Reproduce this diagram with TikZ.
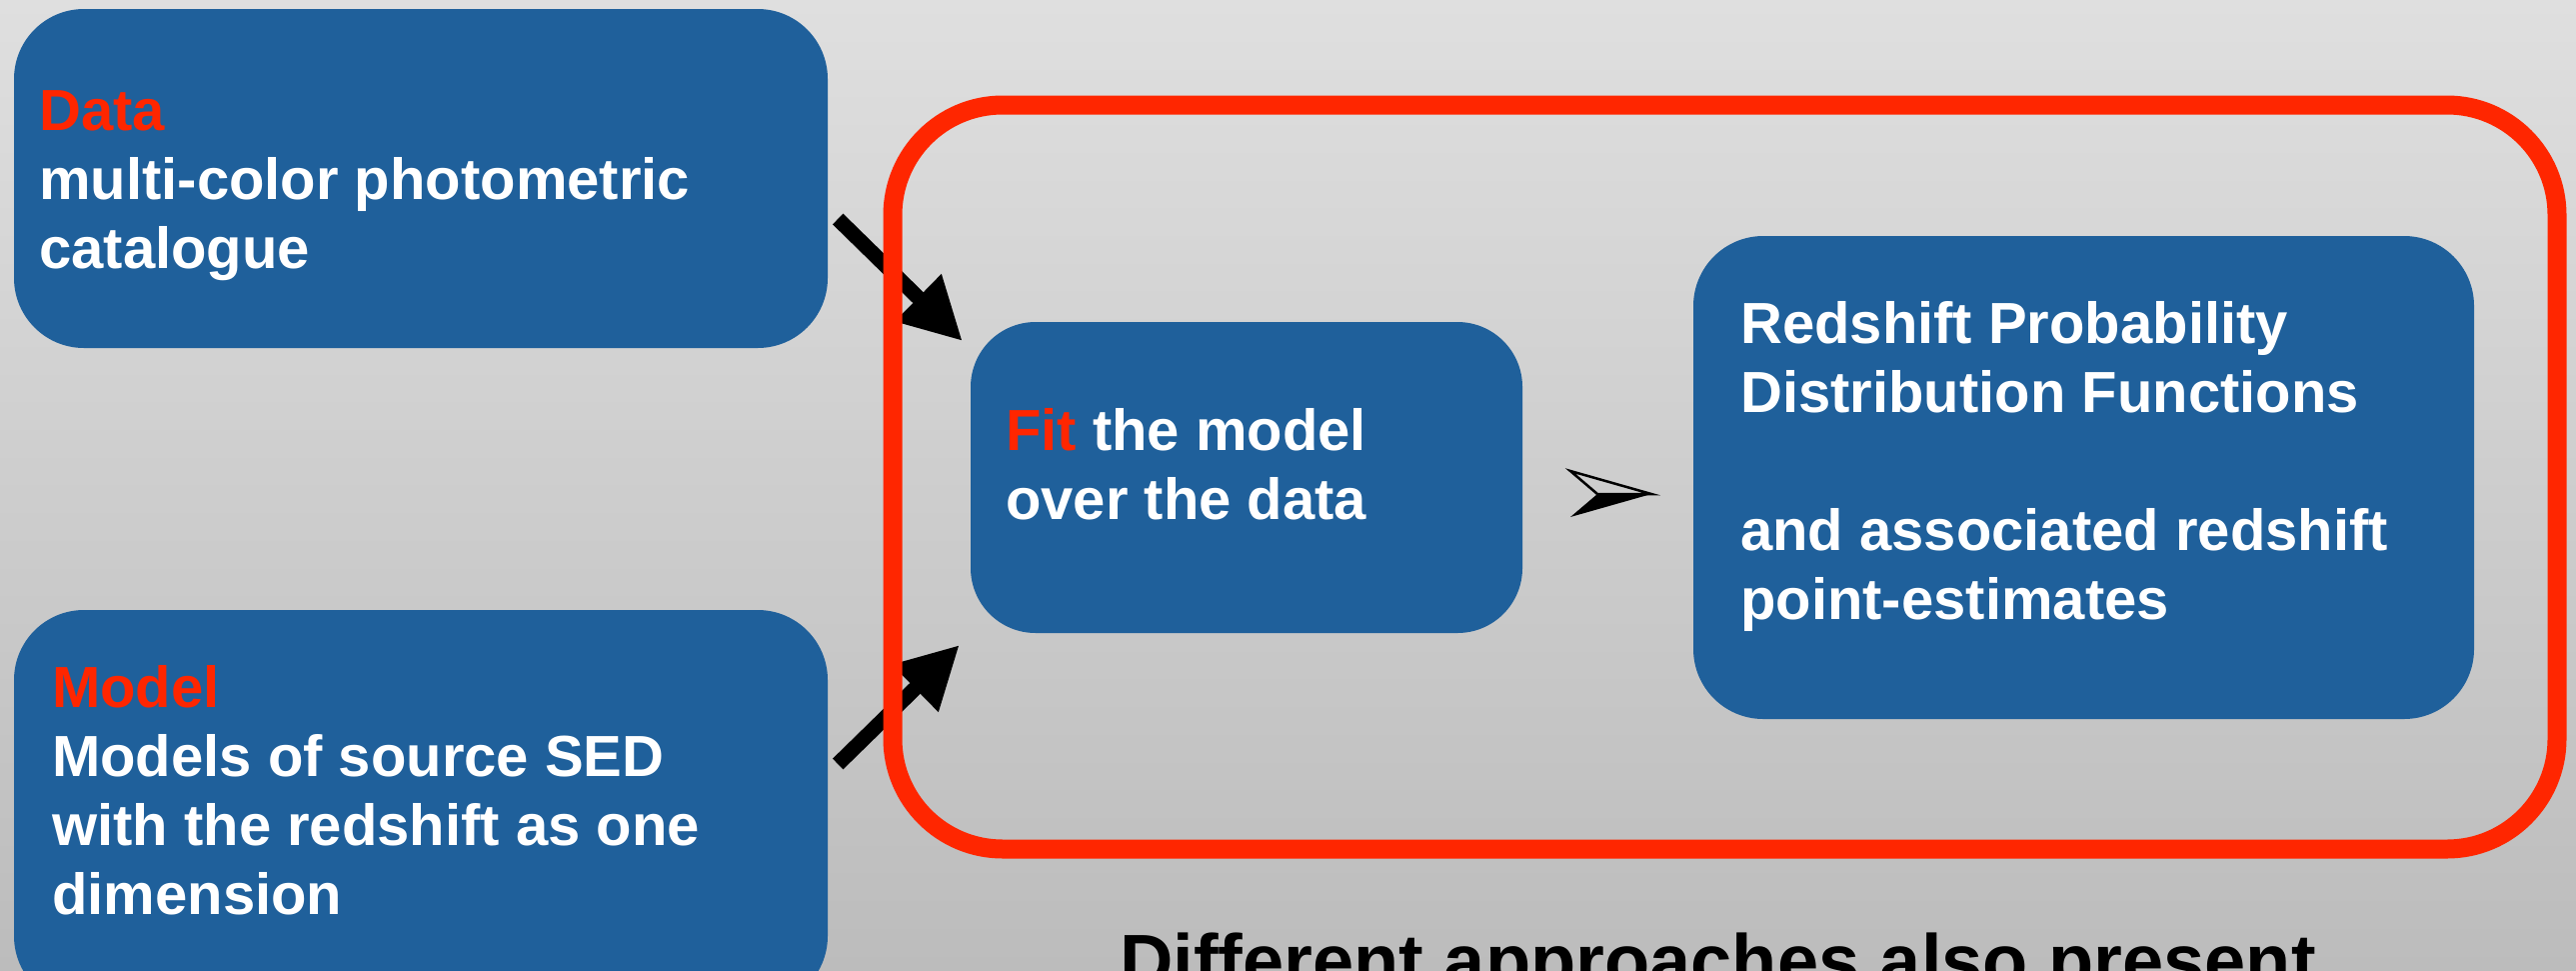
\documentclass[tikz,border=0pt]{standalone}
\usepackage{fontspec}
\setmainfont{Liberation Sans}
\usetikzlibrary{arrows.meta}
\definecolor{boxblue}{RGB}{31,96,155}
\definecolor{alertred}{RGB}{255,38,0}
\definecolor{bgtop}{RGB}{223,223,223}
\definecolor{bgbottom}{RGB}{188,188,188}
\tikzset{
  panel/.style={fill=boxblue, draw=none, rounded corners=70pt, inner sep=0pt},
  groupframe/.style={draw=alertred, line width=19pt, rounded corners=110pt, inner sep=0pt},
  feed/.style={line width=15pt, -{Triangle[length=62pt,width=62pt]}},
  txt/.style={anchor=base west, inner sep=0pt, text=white,
    font=\fontsize{58}{69}\selectfont\bfseries},
}
\begin{document}
\begin{tikzpicture}[x=1pt,y=-1pt]
\useasboundingbox (0,0) rectangle (2577,970);
\clip (0,0) rectangle (2577,970);
% slide background
\shade[top color=bgtop, bottom color=bgbottom] (0,0) rectangle (2577,970);

% boxes
\node[panel, minimum width=814pt, minimum height=339pt] (data) at (421,178.5) {};
\node[panel, minimum width=814pt, minimum height=396pt] (model) at (421,808) {};
\node[panel, minimum width=552pt, minimum height=311pt, rounded corners=65pt] (fit) at (1247,477.5) {};
\node[panel, minimum width=781pt, minimum height=483pt] (pdf) at (2084.5,477.5) {};

% inputs feeding the fit
\draw[feed] ([shift={(10,40.5)}]data.east) -- ([shift={(-8,-136.5)}]fit.west);
\draw[feed] ([shift={(10,-44)}]model.east) -- ([shift={(-11,167.5)}]fit.west);

% red frame around the fitting stage
\node[groupframe, minimum width=1665pt, minimum height=744pt] (stage) at (1725.5,477) {};

% arrowhead bullet between fit and result
\coordinate (pointer) at (1598,494);
\fill ([shift={(-27,23)}]pointer) -- ([shift={(54,0)}]pointer) -- (pointer) -- cycle;
\draw[line width=2.5pt, line join=miter] ([shift={(-27,-23)}]pointer) -- ([shift={(54,0)}]pointer) -- (pointer) -- cycle;

% texts
\node[txt] (datatext) at (39,130) {\parbox[t]{780pt}{\raggedright
  \textcolor{alertred}{Data}\\
  multi-color photometric\\
  catalogue}};
\node[txt] (modeltext) at (52,707) {\parbox[t]{780pt}{\raggedright
  \textcolor{alertred}{Model}\\
  Models of source SED\\
  with the redshift as one\\
  dimension}};
\node[txt] (fittext) at (1006,450) {\parbox[t]{520pt}{\raggedright
  \textcolor{alertred}{Fit} the model\\
  over the data}};
\node[txt] (pdftext) at (1741,343) {\parbox[t]{720pt}{\raggedright
  Redshift Probability\\
  Distribution Functions\\[69pt]
  and associated redshift\\
  point-estimates}};
\node[anchor=base west, inner sep=0pt, font=\fontsize{74}{88}\selectfont\bfseries] (note) at (1120,986) {Different approaches also present};
\end{tikzpicture}
\end{document}
